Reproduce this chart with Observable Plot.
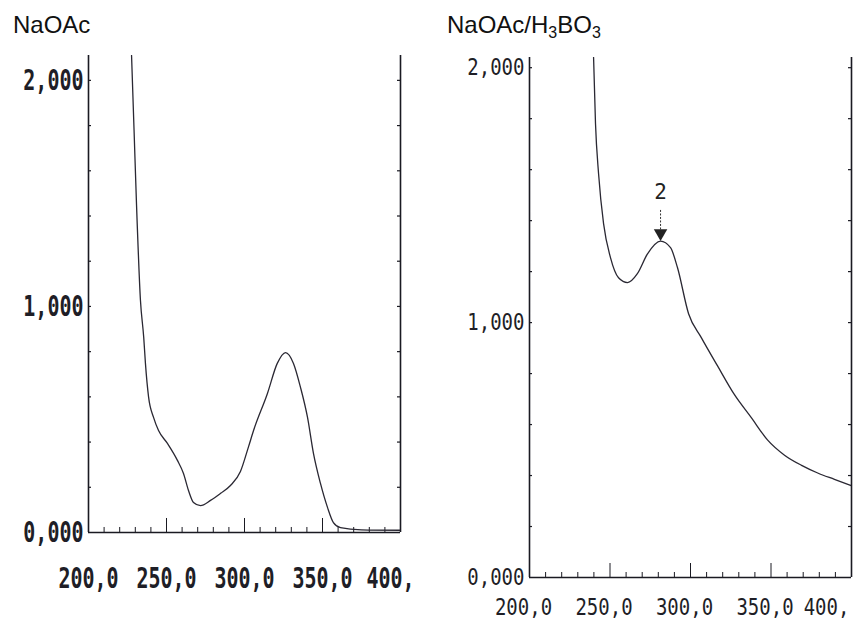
<!DOCTYPE html>
<html>
<head>
<meta charset="utf-8">
<script src="https://cdn.jsdelivr.net/npm/d3@7"></script>
<script src="https://cdn.jsdelivr.net/npm/@observablehq/plot@0.6"></script>
<style>
  html, body { margin: 0; padding: 0; background: #fff; }
  #wrap { position: relative; width: 868px; height: 624px; overflow: hidden; }
  .title { position: absolute; font-family: "Liberation Sans", Arial, sans-serif; font-size: 24px; color: #111; line-height: 1; }
  .title sub { font-size: 16px; vertical-align: -5px; line-height: 0; }
  .panel { position: absolute; top: 0; }
</style>
</head>
<body>
<div id="wrap">
  <div class="title" style="left:13px; top:13px;">NaOAc</div>
  <div class="title" style="left:447px; top:13px;">NaOAc/H<sub>3</sub>BO<sub>3</sub></div>
  <div class="panel" id="left" style="left:0px;"></div>
  <div class="panel" id="right" style="left:434px;"></div>
</div>
<script>
// ---- data ----
const xTicks = [200, 250, 300, 350, 400];
const yTicks = [0, 1, 2];

// Panel 1: NaOAc
const wavelengthNaOAc = [227.6, 229.2, 230.8, 233.3, 235.4, 236.5, 238.5, 241.7, 244.9, 250.6, 257, 260.9, 264.1, 267.3, 271.8, 278.2, 284.6, 291, 297.4, 302.6, 305.8, 314.7, 321, 326.3, 331.4, 335.9, 340.4, 344.2, 348.7, 353.2, 357, 361.5, 375, 400];
const absorbNaOAc     = [2.11, 1.78, 1.447, 1.027, 0.863, 0.748, 0.60, 0.509, 0.451, 0.394, 0.319, 0.261, 0.186, 0.133, 0.119, 0.142, 0.173, 0.208, 0.27, 0.38, 0.451, 0.615, 0.748, 0.796, 0.748, 0.642, 0.509, 0.35, 0.217, 0.111, 0.044, 0.022, 0.012, 0.01];

// Panel 2: NaOAc/H3BO3
const wavelengthBoric = [239.8, 241, 242.9, 246, 250.3, 255.3, 260.9, 267, 273.3, 281.4, 287.6, 291.9, 298.8, 306.8, 316.8, 327, 338, 347.8, 358.4, 369, 379, 389.4, 400];
const absorbBoric     = [2.04, 1.78, 1.584, 1.388, 1.255, 1.176, 1.157, 1.192, 1.27, 1.32, 1.294, 1.216, 1.035, 0.94, 0.83, 0.72, 0.625, 0.54, 0.48, 0.44, 0.41, 0.385, 0.36];

// Annotation (panel 2)
const annLabel = ["2"];
const annX = [281.4];
const annYText = [1.51];
const annYArrowStart = [1.44];
const annYArrowTip = [1.335];

const xFmt = d => d === 400 ? "400," : d.toFixed(1).replace(".", ",");
const yFmt = d => d.toFixed(3).replace(".", ",");

function panel(opts) {
  const {wl, ab, yMax, ml, mr, mt, mb, fs, fw, sy, xPad, xShift, lastShift, pxPerUnit, ann} = opts;
  const minorX = d3.range(210, 400, 10).filter(v => v % 50 !== 0);
  const minorY = d3.range(1, Math.floor(yMax * 5) + 1).map(k => k / 5).filter(v => v < yMax);
  const xUnit = 200 / (434 - ml - mr);
  const ink = "#1a1a22";
  const marks = [
    Plot.ruleX([200, 400], {stroke: ink, strokeWidth: 1.6}),
    Plot.ruleY([0], {stroke: ink, strokeWidth: 1.6}),
    Plot.ruleX(minorX, {y1: 0, y2: 5 / pxPerUnit, stroke: ink, strokeWidth: 1}),
    Plot.ruleX([250, 300, 350], {y1: 0, y2: 14 / pxPerUnit, stroke: ink, strokeWidth: 1}),
    Plot.ruleY(minorY, {x1: 200, x2: 200 + 3 * xUnit, stroke: ink, strokeWidth: 1.2}),
    Plot.ruleY(minorY, {x1: 400 - 3 * xUnit, x2: 400, stroke: ink, strokeWidth: 1.2}),
    Plot.line(wl.map((w, i) => i), {x: i => wl[i], y: i => ab[i], curve: "monotone-x", stroke: "#2a2833", strokeWidth: 1.3, clip: true})
  ];
  if (ann) {
    marks.push(Plot.text(annLabel, {x: annX, y: annYText, text: d => d, fontSize: 21, fontFamily: "DejaVu Sans Mono", fill: "#222"}));
    marks.push(Plot.ruleX(annLabel, {x: annX, y1: annYArrowStart, y2: annYArrowTip, stroke: "#333", strokeWidth: 1, strokeDasharray: "2,1.5"}));
    marks.push(Plot.dot(annLabel, {x: annX, y: annYArrowTip, symbol: "triangle", rotate: 180, r: 5, fill: "#222", stroke: "none", dy: -4}));
  }
  const svg = Plot.plot({
    width: 434,
    height: 624,
    marginLeft: ml, marginRight: mr, marginTop: mt, marginBottom: mb,
    style: {fontFamily: "DejaVu Sans Mono", fontSize: fs + "px", fontWeight: fw, color: "#1e1e26", background: "transparent", overflow: "visible"},
    x: {domain: [200, 400], ticks: xTicks, tickFormat: xFmt, tickSize: 0, tickPadding: xPad, label: null},
    y: {domain: [0, yMax], ticks: yTicks, tickFormat: yFmt, tickSize: 0, tickPadding: 5, label: null},
    marks
  });
  // stretch tick labels vertically like the narrow dot-matrix print
  svg.querySelectorAll('g[aria-label$="tick label"] text, .tick text').forEach(t => {
    const tr = t.getAttribute("transform") || "";
    t.setAttribute("transform", (tr + " scale(1," + sy + ")").trim());
  });
  // x labels sit slightly left of their ticks in the print
  svg.querySelectorAll('g[aria-label="x-axis tick label"] text, g[aria-label="x-axis"] .tick text').forEach(t => {
    const extra = t.textContent === "400," ? lastShift : 0;
    t.setAttribute("dx", String(xShift + extra));
  });
  return svg;
}

document.getElementById("left").appendChild(panel({
  wl: wavelengthNaOAc, ab: absorbNaOAc, yMax: 2.11,
  ml: 88, mr: 34, mt: 55, mb: 92, fs: 20, fw: "bold", sy: 1.45, xPad: 35, xShift: 0, lastShift: -10, pxPerUnit: 226, ann: false
}));
document.getElementById("right").appendChild(panel({
  wl: wavelengthBoric, ab: absorbBoric, yMax: 2.04,
  ml: 95, mr: 17, mt: 57, mb: 47, fs: 19, fw: "normal", sy: 1.25, xPad: 21, xShift: -6, lastShift: -19, pxPerUnit: 255, ann: true
}));
</script>
</body>
</html>
